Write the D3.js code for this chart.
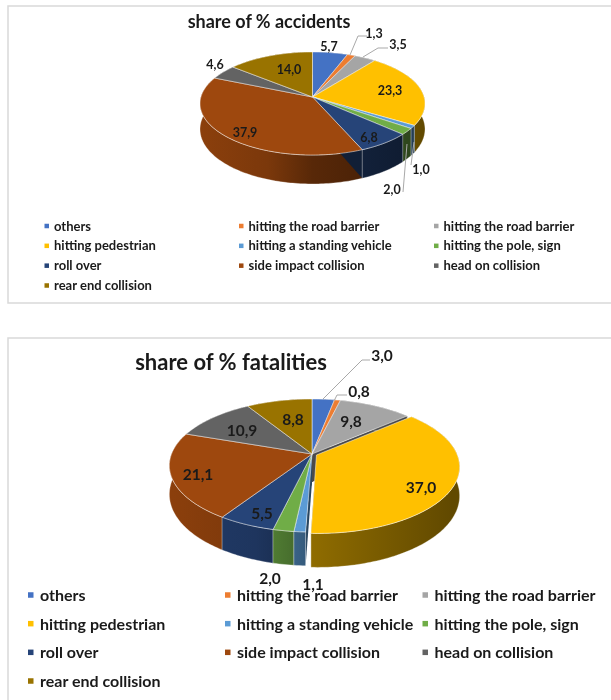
<!DOCTYPE html>
<html><head><meta charset="utf-8">
<script src="https://cdnjs.cloudflare.com/ajax/libs/d3/7.8.5/d3.min.js"></script>
<style>html,body{margin:0;padding:0;background:#fff}svg{display:block;filter:blur(.45px)}text{font-family:Lato,"Open Sans",sans-serif;font-weight:700;fill:#1a1a1a}</style>
</head><body><svg id="c" width="611" height="700"></svg>
<script>
const categories=["others","hitting the road barrier","hitting the road barrier","hitting pedestrian","hitting a standing vehicle","hitting the pole, sign","roll over","side impact collision","head on collision","rear end collision"];
const accidents=[5.7,1.3,3.5,23.3,1.0,2.0,6.8,37.9,4.6,14.0];
const fatalities=[3.0,0.8,9.8,37.0,1.1,2.0,5.5,21.1,10.9,8.8];
const colors=["#4472C4","#ED7D31","#A5A5A5","#FFC000","#5B9BD5","#70AD47","#264478","#9E480E","#636363","#997300"];

const svg=d3.select("#c");
const fmt=v=>v.toFixed(1).replace(".",",");
const shade=d3.scaleLinear().domain([-1,-.4,0,1]).range([.88,.78,.56,.38]);
const mult=(c,f)=>{const r=d3.rgb(c);return d3.rgb(r.r*f,r.g*f,r.b*f).formatHex();};

function drawPie(o){
  const g=svg.append("g");
  const {values,cx,cy,s,c,k,depth,explode}=o;
  const P=(X,Y,z,e)=>{X+=e[0];Y+=e[1];const w=1-k*Y;return [cx+s*X/w,cy+(c*Y+z*depth)/w];};
  const arcs=d3.pie().sort(null).value(d=>d)(values).map((a,i)=>{
    const mid=(a.startAngle+a.endAngle)/2;
    const ex=explode[i]||0;
    return {...a,i,mid,e:[ex*Math.sin(mid),-ex*Math.cos(mid)]};
  });
  const line=d3.line();
  const pts=(a,z)=>{
    const n=Math.max(2,Math.ceil((a.endAngle-a.startAngle)/0.02));
    return d3.range(n+1).map(j=>{const t=a.startAngle+(a.endAngle-a.startAngle)*j/n;return P(Math.sin(t),-Math.cos(t),z,a.e);});
  };
  const defs=g.append("defs");
  arcs.forEach(a=>{
    const gr=defs.append("linearGradient").attr("id",o.id+"w"+a.i).attr("gradientUnits","userSpaceOnUse")
      .attr("x1",cx-s).attr("x2",cx+s).attr("y1",0).attr("y2",0);
    [-1,-.4,0,1].forEach(t=>gr.append("stop").attr("offset",(t+1)/2).attr("stop-color",mult(colors[a.i],shade(t))));
  });
  const edge="rgba(255,255,255,.62)";
  [...arcs].sort((a,b)=>(-Math.cos(a.mid))-(-Math.cos(b.mid))).forEach(a=>{
    const fill=`url(#${o.id}w${a.i})`;
    const top=pts(a,0),bot=pts(a,1);
    const ap0=P(0,0,0,a.e),ap1=P(0,0,1,a.e);
    [[top[0],bot[0]],[top[top.length-1],bot[bot.length-1]]].forEach(([p,q])=>{
      g.append("path").attr("d",line([ap0,p,q,ap1])+"Z").attr("fill",mult(colors[a.i],.45));
    });
    g.append("path").attr("d",line(top.concat(bot.slice().reverse()))+"Z").attr("fill",fill).attr("stroke",edge).attr("stroke-width",.5);
  });
  arcs.forEach(a=>{
    g.append("path").attr("d",line([P(0,0,0,a.e),...pts(a,0)])+"Z").attr("fill",colors[a.i]).attr("stroke",edge).attr("stroke-width",.8);
  });
  g.append("g").selectAll("path").data(o.leaders).join("path")
    .attr("d",d=>line(d)).attr("fill","none").attr("stroke","#a9a9a9").attr("stroke-width",1);
  g.append("g").selectAll("text").data(arcs).join("text")
    .attr("x",a=>o.labelAt[a.i][0]).attr("y",a=>o.labelAt[a.i][1])
    .attr("text-anchor","middle").attr("dominant-baseline","central")
    .attr("font-size",o.labelSize).text(a=>fmt(a.data));
}
function legend(o){
  const g=svg.append("g");
  const cols=d3.scaleOrdinal().domain([0,1,2]).range(o.colX);
  const rows=d3.scalePoint().domain([0,1,2,3]).range(o.rowY);
  categories.forEach((n,i)=>{
    const x=cols(i%3),y=rows(Math.floor(i/3));
    g.append("rect").attr("x",x).attr("y",y-o.m/2).attr("width",o.m).attr("height",o.m).attr("fill",colors[i]);
    g.append("text").attr("x",x+o.tx).attr("y",y-.5).attr("dominant-baseline","central").attr("font-size",o.size).text(n);
  });
}
const frame="#d9d9d9";
svg.append("path").attr("d","M612,6H8V303H612").attr("fill","#fff").attr("stroke",frame).attr("stroke-width",1.5);
svg.append("path").attr("d","M612,338H8V701").attr("fill","#fff").attr("stroke",frame).attr("stroke-width",1.5);

svg.append("text").attr("x",269).attr("y",21).attr("text-anchor","middle").attr("dominant-baseline","central").attr("font-size",18).text("share of % accidents");
svg.append("text").attr("x",231).attr("y",361).attr("text-anchor","middle").attr("dominant-baseline","central").attr("font-size",22).text("share of % fatalities");

drawPie({id:"a",values:accidents,cx:312.5,cy:97,s:111.6,c:50.7,k:.126,depth:25.3,explode:{},labelSize:12.5,
  labelAt:[[329,46],[374,33],[398,44],[390,90],[421,169],[392,189],[369,137],[245,132],[215,64],[289,69]],
  leaders:[[[350,55],[358,36],[367,36]],[[363,57],[378,48],[388,48]],[[414,142],[411,165]],[[407,144],[403,192]]]});
drawPie({id:"b",values:fatalities,cx:312,cy:454,s:140.5,c:64.5,k:.173,depth:28,explode:{3:.035},labelSize:15.5,
  labelAt:[[382,355],[359,391],[351,421],[421,487],[313,584],[270,578],[262,513],[198,474],[242,430],[293,419]],
  leaders:[[[323,399],[362,360],[370,360]],[[334,401],[337,395],[347,395]]]});

legend({colX:[44.5,239,434],rowY:[226,285.5],m:4.5,tx:9.5,size:13});
legend({colX:[28,225,422.5],rowY:[595,681],m:5.5,tx:12,size:16});
</script></body></html>
